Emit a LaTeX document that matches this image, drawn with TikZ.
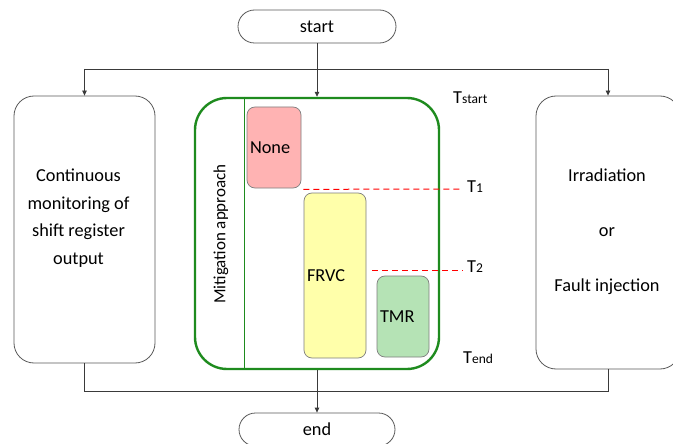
\documentclass[tikz,border=0pt]{standalone}
\usepackage{fontspec}
\setmainfont{Carlito}
\usetikzlibrary{arrows.meta,calc}
\definecolor{gline}{HTML}{1E8B1E}
\definecolor{bordergray}{HTML}{5A5A5A}
\definecolor{boxgray}{HTML}{7F7F7F}
\definecolor{nonefill}{HTML}{FFB3B3}
\definecolor{frvcfill}{HTML}{FFFFAA}
\definecolor{tmrfill}{HTML}{B5E3B5}
\definecolor{conn}{HTML}{3A3A3A}
\newcommand{\bigtxt}{\fontsize{18.3}{27.5}\selectfont}
\newcommand{\subtxt}{\fontsize{13.5}{14}\selectfont}
\tikzset{
  term/.style={draw=bordergray, line width=0.8pt, minimum width=#1, minimum height=33pt, rounded corners=16.5pt, inner sep=0pt, font=\bigtxt},
  bigbox/.style={draw=bordergray, line width=0.8pt, rounded corners=20pt, inner sep=0pt},
  greenbox/.style={draw=gline, line width=2.4pt, rounded corners=32pt, inner sep=0pt},
  methbox/.style={draw=boxgray, line width=0.7pt, rounded corners=8pt, inner xsep=3pt, inner ysep=0pt, align=left, font=\bigtxt},
  txt/.style={inner sep=0pt, font=\bigtxt, align=center},
  tlabel/.style={inner sep=0pt, anchor=base west, font=\bigtxt},
  conline/.style={draw=conn, line width=0.8pt},
  arr/.style={conline, -{Triangle[length=5pt,width=4.5pt]}},
  reddash/.style={draw=red, line width=1pt, dash pattern=on 6pt off 4pt},
}
\begin{document}
\begin{tikzpicture}[x=1pt,y=-1pt]
\useasboundingbox (0,0) rectangle (673,444);
\clip (0,0) rectangle (673,444);
\fill[white] (0,0) rectangle (673,444);

% terminals
\node[term=158pt] (start) at (317,26.5) {start};
\node[term=156pt] (end) at (317,429.5) {end};

% main boxes
\node[bigbox, minimum width=141pt, minimum height=267pt] (left) at (84.5,229.5) {};
\node[txt] (lefttext) at (78.5,218) {Continuous\\monitoring of\\shift register\\output};
\node[bigbox, minimum width=144pt, minimum height=273pt] (right) at (608,232.5) {};
\node[txt] (righttext) at (607,232) {Irradiation\\[27.5pt]or\\[27.5pt]Fault injection};
\node[greenbox, minimum width=244pt, minimum height=271pt] (green) at (317,233.5) {};

% divider and rotated label
\coordinate (vl) at (244,200);
\draw[gline, line width=1pt] (vl |- green.north) -- (vl |- green.south);
\node[txt, rotate=90, font=\fontsize{17}{20}\selectfont] (mit) at (221,234) {Mitigation approach};

% mitigation methods
\node[methbox, fill=nonefill, text width=48pt, minimum height=81pt] (none) at (274,147.5) {None};
\node[methbox, fill=frvcfill, text width=56pt, minimum height=165pt] (frvc) at (335,275.5) {FRVC};
\node[methbox, fill=tmrfill, text width=46pt, minimum height=81pt] (tmr) at (403,316.5) {TMR};

% time labels
\node[tlabel] (tstart) at (453,103) {T{\subtxt start}};
\node[tlabel] (t1) at (467,193) {T{\subtxt 1}};
\node[tlabel] (t2) at (467,272) {T{\subtxt 2}};
\node[tlabel] (tend) at (463,363) {T{\subtxt end}};

% red dashed time markers
\draw[reddash] ([xshift=2pt,yshift=-1pt]none.south east) -- ([xshift=-7pt]t1.west |- 0,189);
\draw[reddash] ([xshift=6pt,yshift=5.5pt]frvc.east) -- ([xshift=-4pt]t2.west |- 0,270);

% top connectors
\coordinate (split) at (317,69);
\draw[conline] (start.south) -- (split);
\draw[conline] (left.north |- split) -- (right.north |- split);
\draw[arr] (left.north |- split) -- (left.north);
\draw[arr] (split) -- (green.north);
\draw[arr] (right.north |- split) -- (right.north);

% bottom connectors
\coordinate (join) at (317,391);
\draw[conline] (left.south) -- (left.south |- join) -- (right.south |- join) -- (right.south);
\draw[arr] (green.south) -- (end.north);
\end{tikzpicture}
\end{document}
